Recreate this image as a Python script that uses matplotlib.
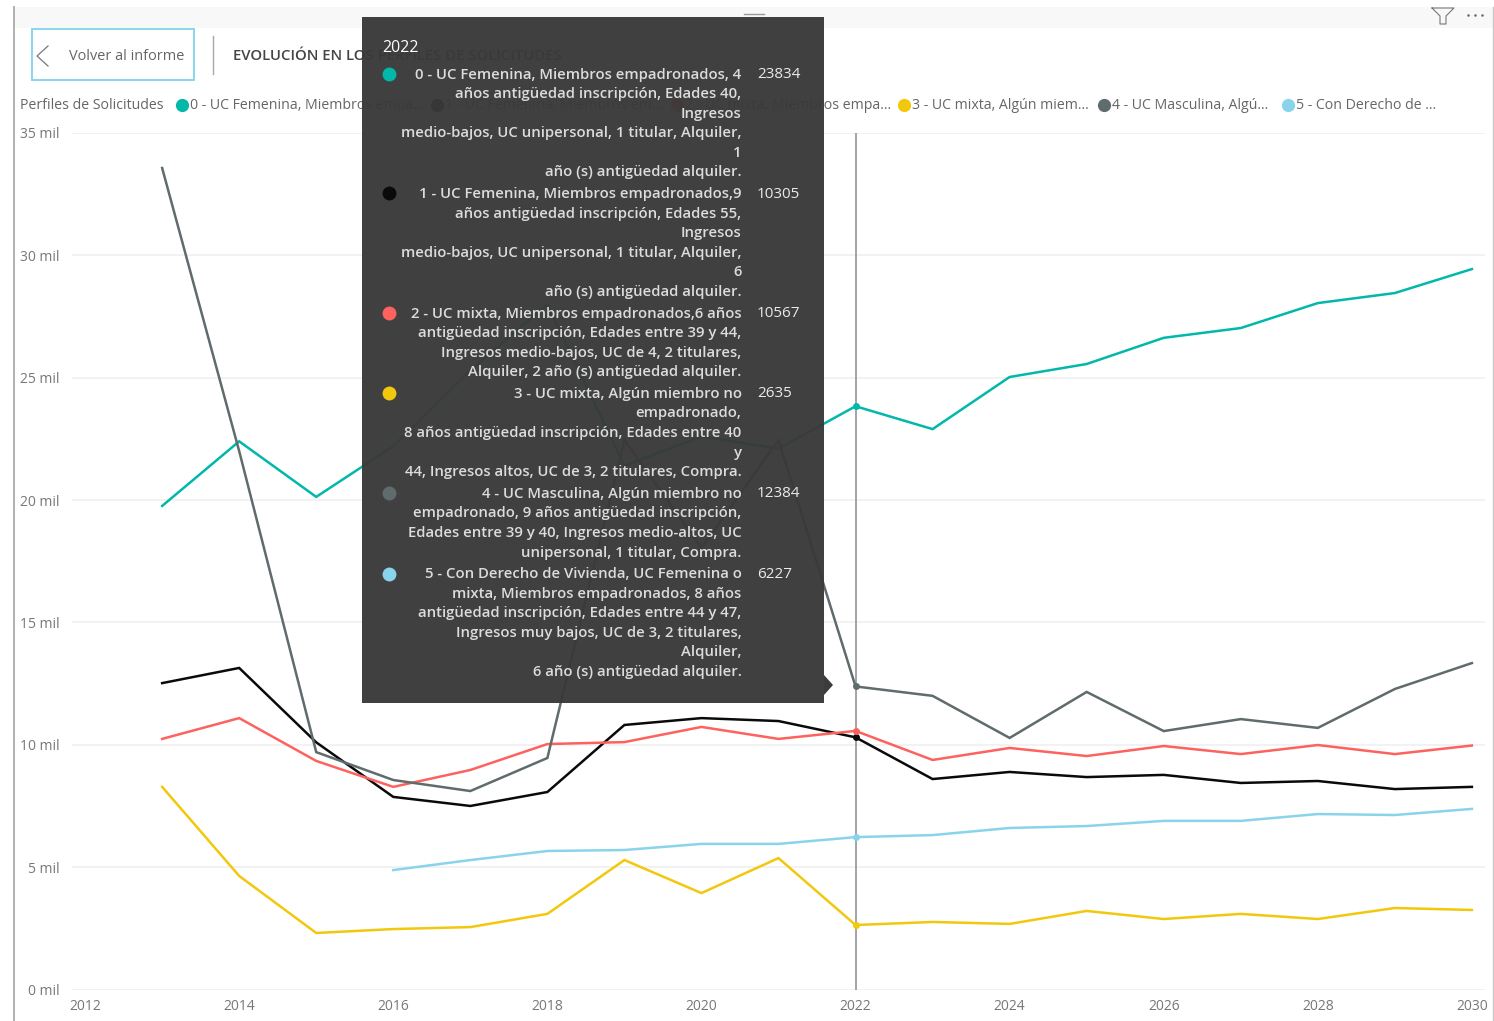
#!/usr/bin/env python3
"""Evolución en los perfiles de solicitudes: vista de Power BI con tooltip abierto en 2022."""

import matplotlib
matplotlib.use("Agg")
import matplotlib.pyplot as plt
from matplotlib.patches import Rectangle, Polygon

W, H = 1494, 1021
plt.rcParams["font.family"] = ["Open Sans", "DejaVu Sans"]

# datos
years = list(range(2013, 2031))
perfil_0 = [19.76, 22.4, 20.13, 22.2, 25.3, 28.0, 21.4, 22.6, 22.1, 23.834, 22.9, 25.03, 25.56, 26.63, 27.03, 28.05, 28.46, 29.44]
perfil_1 = [12.52, 13.14, 10.1, 7.87, 7.5, 8.07, 10.81, 11.09, 10.97, 10.305, 8.6, 8.89, 8.68, 8.77, 8.44, 8.52, 8.19, 8.28]
perfil_2 = [10.24, 11.09, 9.34, 8.28, 8.97, 10.03, 10.11, 10.73, 10.24, 10.567, 9.38, 9.87, 9.54, 9.95, 9.62, 9.99, 9.62, 9.97]
perfil_3 = [8.28, 4.64, 2.31, 2.47, 2.55, 3.09, 5.29, 3.94, 5.37, 2.635, 2.76, 2.68, 3.21, 2.88, 3.09, 2.88, 3.33, 3.25]
perfil_4 = [33.57, 22.0, 9.7, 8.56, 8.11, 9.46, 22.45, 18.05, 22.45, 12.384, 12.0, 10.28, 12.16, 10.56, 11.05, 10.69, 12.28, 13.34]
perfil_5_years = list(range(2016, 2031))
perfil_5 = [4.88, 5.29, 5.66, 5.7, 5.95, 5.95, 6.227, 6.31, 6.6, 6.68, 6.89, 6.89, 7.17, 7.13, 7.38]

colors = ["#01B8AA", "#0A0A0A", "#FD625E", "#F2C80F", "#5F6B6D", "#8AD4EB"]
x_ticks = list(range(2012, 2031, 2))
y_ticks = [0, 5, 10, 15, 20, 25, 30, 35]
y_labels = ["0 mil", "5 mil", "10 mil", "15 mil", "20 mil", "25 mil", "30 mil", "35 mil"]

legend_title = "Perfiles de Solicitudes"
legend_labels = ["0 - UC Femenina, Miembros empa...", "1 - UC Femenina, Miembros em...",
                 "2 - UC mixta, Miembros empa...", "3 - UC mixta, Algún miem...",
                 "4 - UC Masculina, Algú...", "5 - Con Derecho de ..."]
tooltip_year = "2022"
tooltip_values = ["23834", "10305", "10567", "2635", "12384", "6227"]
tooltip_lines = [
    ["0 - UC Femenina, Miembros empadronados, 4", "años antigüedad inscripción, Edades 40,", "Ingresos",
     "medio-bajos, UC unipersonal, 1 titular, Alquiler,", "1", "año (s) antigüedad alquiler."],
    ["1 - UC Femenina, Miembros empadronados,9", "años antigüedad inscripción, Edades 55,", "Ingresos",
     "medio-bajos, UC unipersonal, 1 titular, Alquiler,", "6", "año (s) antigüedad alquiler."],
    ["2 - UC mixta, Miembros empadronados,6 años", "antigüedad inscripción, Edades entre 39 y 44,",
     "Ingresos medio-bajos, UC de 4, 2 titulares,", "Alquiler, 2 año (s) antigüedad alquiler."],
    ["3 - UC mixta, Algún miembro no", "empadronado,", "8 años antigüedad inscripción, Edades entre 40", "y",
     "44, Ingresos altos, UC de 3, 2 titulares, Compra."],
    ["4 - UC Masculina, Algún miembro no", "empadronado, 9 años antigüedad inscripción,",
     "Edades entre 39 y 40, Ingresos medio-altos, UC", "unipersonal, 1 titular, Compra."],
    ["5 - Con Derecho de Vivienda, UC Femenina o", "mixta, Miembros empadronados, 8 años",
     "antigüedad inscripción, Edades entre 44 y 47,", "Ingresos muy bajos, UC de 3, 2 titulares,", "Alquiler,",
     "6 año (s) antigüedad alquiler."],
]
series = [(years, perfil_0), (years, perfil_1), (years, perfil_2), (years, perfil_3), (years, perfil_4),
          (perfil_5_years, perfil_5)]

fig = plt.figure(figsize=(W / 100, H / 100), dpi=100, facecolor="white")


def overlay(zorder):
    # capa a pantalla completa, en pixeles
    a = fig.add_axes([0, 0, 1, 1], zorder=zorder)
    a.set_xlim(0, W)
    a.set_ylim(H, 0)
    a.axis("off")
    return a


# marco, cabecera y leyenda
back = overlay(0)
back.add_patch(Rectangle((14, 7), 1479, 21, fc="#F8F8F8", ec="none"))
back.plot([14, 14], [7, H], color="#B0B0B0", lw=1.4)
back.plot([1493, 1493], [7, H], color="#C8C8C8", lw=1)
back.add_patch(Rectangle((32, 29), 162, 51, fc="white", ec="#7FD3EA", lw=1.3))
back.plot([48, 37, 48], [46, 56, 66], color="#777777", lw=0.9)
back.text(69, 57, "Volver al informe", fontsize=10.45, color="#666666", va="center")
back.plot([213, 213], [36, 74], color="#A8A8A8", lw=1)
back.text(233, 55.5, "EVOLUCIÓN EN LOS PERFILES DE SOLICITUDES", fontsize=10.7, fontweight="semibold",
          color="#444444", va="center")
back.plot([1432, 1454, 1446, 1446, 1440, 1440, 1432], [8, 8, 16, 24, 24, 16, 8], color="#777777", lw=0.8)
back.plot([1468, 1475, 1482], [15, 15, 15], ls="none", marker="o", ms=1.8, color="#666666", mec="none")
back.plot([744, 764], [14, 14], color="#999999", lw=1)

back.text(20, 105.5, legend_title, fontsize=10.15, color="#666666", va="center")
legend_dot_x = [182, 437, 677, 904, 1104, 1288]
for dot_x, label, col in zip(legend_dot_x, legend_labels, colors):
    back.plot(dot_x, 105, "o", ms=9.5, color=col, mec="none")
    back.text(dot_x + 8, 105.5, label, fontsize=10.15, color="#666666", va="center")

# grafico
ax = fig.add_axes([72 / W, 1 - 989.5 / H, (1485 - 72) / W, (989.5 - 133) / H], zorder=1)
ax.patch.set_alpha(0)
ax.set_xlim(2011.83, 2030.17)
ax.set_ylim(0, 35)
for s in ax.spines.values():
    s.set_visible(False)
ax.set_yticks(y_ticks, y_labels)
ax.set_xticks(x_ticks)
ax.tick_params(length=0, labelcolor="#777777", labelsize=10)
ax.tick_params(axis="y", pad=9)
ax.tick_params(axis="x", pad=7)
ax.grid(axis="y", color="#F0F0F0", lw=1.2)
ax.set_axisbelow(True)
ax.axvline(2022, color="#8C8C8C", lw=1.1, zorder=1.5)
for (xs, ys), col in zip(series, colors):
    ax.plot(xs, ys, color=col, lw=1.8, solid_joinstyle="miter", clip_on=False)
    ax.plot(2022, ys[xs.index(2022)], "o", ms=5, color=col, mec="none")

# tooltip
top = overlay(2)
top.add_patch(Rectangle((362, 17), 462, 686, fc="#393939", ec="none", alpha=0.965))
top.add_patch(Polygon([[824, 675], [833, 685], [824, 695]], fc="#3C3C3C", ec="none"))
top.text(382, 48, tooltip_year, fontsize=11.5, color="white", va="center")
y = 74.5
for lines, value, col in zip(tooltip_lines, tooltip_values, colors):
    top.plot(389, y - 0.5, "o", ms=10, color=col, mec="none")
    top.text(757, y, value, fontsize=11, color="#EAEAEA", va="center")
    for i, line in enumerate(lines):
        top.text(741.5, y + i * 19.55, line, fontsize=10.7, fontweight="semibold", color="#DCDCDC",
                 ha="right", va="center")
    y += len(lines) * 19.55 + 2.2

fig.savefig("out.png", dpi=100)
